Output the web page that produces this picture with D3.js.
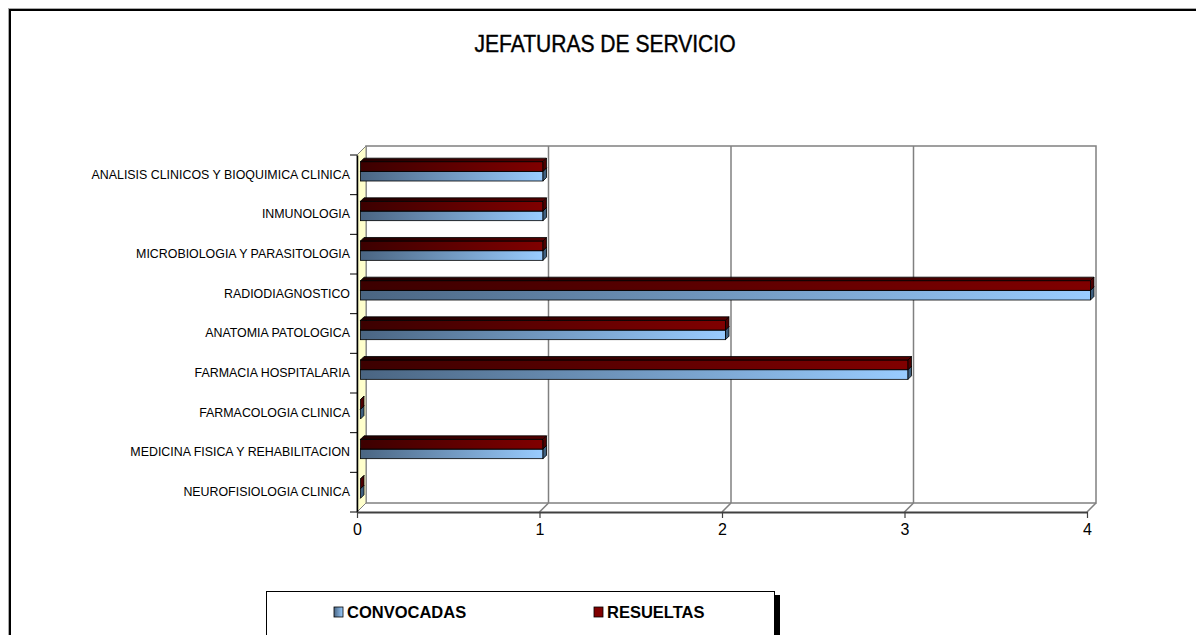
<!DOCTYPE html>
<html>
<head>
<meta charset="utf-8">
<script src="https://d3js.org/d3.v7.min.js"></script>
<style>
  body { margin: 0; background: #fff; }
  text { font-family: "Liberation Sans", Arial, sans-serif; }
</style>
</head>
<body>
<div id="chart"></div>
<script>
var width = 1196,
    height = 635;

// data, top to bottom as shown
var categories = [
    "ANALISIS CLINICOS Y BIOQUIMICA CLINICA",
    "INMUNOLOGIA",
    "MICROBIOLOGIA Y PARASITOLOGIA",
    "RADIODIAGNOSTICO",
    "ANATOMIA PATOLOGICA",
    "FARMACIA HOSPITALARIA",
    "FARMACOLOGIA CLINICA",
    "MEDICINA FISICA Y REHABILITACION",
    "NEUROFISIOLOGIA CLINICA"
];
var convocadas = [1, 1, 1, 4, 2, 3, 0, 1, 0];
var resueltas  = [1, 1, 1, 4, 2, 3, 0, 1, 0];
var seriesNames = ["CONVOCADAS", "RESUELTAS"];
var xTicks = [0, 1, 2, 3, 4];

var svg = d3.select("#chart")
    .append("svg")
    .attr("width", width)
    .attr("height", height);

// outer frame
svg.append("rect")
    .attr("x", 8.5).attr("y", 8.5)
    .attr("width", 1300).attr("height", 800)
    .attr("fill", "none").attr("stroke", "#aaa").attr("stroke-width", 1);
svg.append("rect")
    .attr("x", 10).attr("y", 10)
    .attr("width", 1300).attr("height", 800)
    .attr("fill", "#fff").attr("stroke", "#000").attr("stroke-width", 2);

// title, a bit narrow like the original
svg.append("text")
    .attr("transform", "translate(605,52) scale(0.915,1)")
    .attr("text-anchor", "middle")
    .style("font-size", "23px")
    .style("stroke", "#000").style("stroke-width", 0.4)
    .text("JEFATURAS DE SERVICIO");

// front plane scales, depth offset for the 3d look
var depth = 9;
var x = d3.scaleLinear().domain([0, 4]).range([357, 1087]);
var y = d3.scaleBand().domain(categories).range([155, 512]);
var ySub = d3.scaleBand().domain(["RESUELTAS", "CONVOCADAS"])
    .range([0, y.bandwidth()]).paddingOuter(1.05);

var top3d = y.range()[0], bottom3d = y.range()[1];

// back wall
svg.append("rect")
    .attr("x", x(0) + depth).attr("y", top3d - depth)
    .attr("width", x(4) - x(0)).attr("height", bottom3d - top3d)
    .attr("fill", "#fff").attr("stroke", "#808080").attr("stroke-width", 1.5);

// gridlines on back wall
svg.append("g")
    .selectAll("line")
    .data(xTicks.slice(1, -1))
    .enter()
    .append("line")
    .attr("x1", d => x(d) + depth).attr("x2", d => x(d) + depth)
    .attr("y1", top3d - depth).attr("y2", bottom3d - depth)
    .attr("stroke", "#808080").attr("stroke-width", 1.5);

// floor diagonals
svg.append("g")
    .selectAll("line")
    .data(xTicks.slice(1))
    .enter()
    .append("line")
    .attr("x1", d => x(d)).attr("x2", d => x(d) + depth)
    .attr("y1", bottom3d).attr("y2", bottom3d - depth)
    .attr("stroke", "#808080").attr("stroke-width", 1.5);

// left wall
svg.append("path")
    .attr("d", "M" + x(0) + "," + top3d +
        "L" + (x(0) + depth) + "," + (top3d - depth) +
        "L" + (x(0) + depth) + "," + (bottom3d - depth) +
        "L" + x(0) + "," + bottom3d + "Z")
    .attr("fill", "#ffffcc").attr("stroke", "#808080").attr("stroke-width", 1);

// gradients
var defs = svg.append("defs");
function grad(id, c0, c1) {
    var g = defs.append("linearGradient").attr("id", id);
    g.append("stop").attr("offset", "0%").attr("stop-color", c0);
    g.append("stop").attr("offset", "100%").attr("stop-color", c1);
}
grad("gBlue", "#4a6582", "#99ccff");
grad("gBlueTop", "#3d5570", "#7fb0e0");
grad("gRed", "#3c0000", "#800000");
grad("gRedTop", "#220000", "#520000");

var styles = {
    CONVOCADAS: { front: "url(#gBlue)", top: "url(#gBlueTop)", side: "#3f607f" },
    RESUELTAS: { front: "url(#gRed)", top: "url(#gRedTop)", side: "#4d0000" }
};

// bars sit in the middle of the depth
var bOff = 3.5, bDepth = 3.5;
var bars = [];
categories.forEach(function (c, i) {
    bars.push({ cat: c, series: "CONVOCADAS", value: convocadas[i] });
    bars.push({ cat: c, series: "RESUELTAS", value: resueltas[i] });
});

var barG = svg.append("g")
    .selectAll("g")
    .data(bars)
    .enter()
    .append("g");

function px(d) { return x(0) + bOff; }
function py(d) { return y(d.cat) + ySub(d.series) - bOff; }
function pw(d) { return x(d.value) - x(0); }

barG.append("rect")
    .attr("x", px).attr("y", py)
    .attr("width", pw).attr("height", ySub.bandwidth())
    .attr("fill", d => styles[d.series].front)
    .attr("stroke", "#000").attr("stroke-width", 0.8);

barG.append("path")
    .attr("d", function (d) {
        var x0 = px(d), x1 = x0 + pw(d), y0 = py(d);
        return "M" + x0 + "," + y0 + "L" + x1 + "," + y0 +
            "L" + (x1 + bDepth) + "," + (y0 - bDepth) +
            "L" + (x0 + bDepth) + "," + (y0 - bDepth) + "Z";
    })
    .attr("fill", d => styles[d.series].top)
    .attr("stroke", "#000").attr("stroke-width", 0.8);

barG.append("path")
    .attr("d", function (d) {
        var x1 = px(d) + pw(d), y0 = py(d), h = ySub.bandwidth();
        return "M" + x1 + "," + y0 + "L" + (x1 + bDepth) + "," + (y0 - bDepth) +
            "L" + (x1 + bDepth) + "," + (y0 + h - bDepth) +
            "L" + x1 + "," + (y0 + h) + "Z";
    })
    .attr("fill", d => styles[d.series].side)
    .attr("stroke", "#000").attr("stroke-width", 0.8);

// category axis
var yAxis = svg.append("g")
    .attr("transform", "translate(" + x(0) + ",0)")
    .call(d3.axisLeft(y).tickSize(0).tickPadding(7));
yAxis.select(".domain").attr("stroke", "#000").attr("stroke-width", 1.5);
yAxis.selectAll("text")
    .style("font-size", "12.4px")
    .style("font-family", "'Liberation Sans', Arial, sans-serif")
    .attr("fill", "#000");

// band boundary ticks
var bounds = categories.map(c => y(c)).concat([bottom3d]);
svg.append("g")
    .selectAll("line")
    .data(bounds)
    .enter()
    .append("line")
    .attr("x1", x(0) - 7).attr("x2", x(0))
    .attr("y1", d => d).attr("y2", d => d)
    .attr("stroke", "#000").attr("stroke-width", 1);

// value axis on the front of the floor
var xAxis = svg.append("g")
    .attr("transform", "translate(0," + bottom3d + ")")
    .call(d3.axisBottom(x).tickValues(xTicks).tickFormat(d3.format("d"))
        .tickSize(6).tickSizeOuter(0).tickPadding(6));
xAxis.select(".domain").attr("stroke", "#404040").attr("stroke-width", 2);
xAxis.selectAll(".tick line").attr("stroke", "#404040").attr("stroke-width", 1.2);
xAxis.selectAll("text")
    .style("font-size", "16px")
    .style("font-family", "'Liberation Sans', Arial, sans-serif")
    .attr("fill", "#000");

// legend
var legend = svg.append("g");
legend.append("rect")
    .attr("x", 775).attr("y", 595).attr("width", 5).attr("height", 60)
    .attr("fill", "#000");
legend.append("rect")
    .attr("x", 266.5).attr("y", 591.5).attr("width", 508).attr("height", 60)
    .attr("fill", "#fff").attr("stroke", "#000").attr("stroke-width", 1);

var legendX = d3.scaleOrdinal().domain(seriesNames).range([334, 594]);
var legendFill = { CONVOCADAS: "url(#gBlue)", RESUELTAS: "#800000" };

var item = legend.selectAll(".item")
    .data(seriesNames)
    .enter()
    .append("g")
    .attr("class", "item")
    .attr("transform", d => "translate(" + legendX(d) + ",607)");
item.append("rect")
    .attr("width", 9).attr("height", 10)
    .attr("fill", d => legendFill[d])
    .attr("stroke", "#000").attr("stroke-width", 0.8);
item.append("text")
    .attr("x", 13).attr("y", 10.5)
    .style("font-size", "16.5px")
    .style("font-weight", "bold")
    .text(d => d);
</script>
</body>
</html>
